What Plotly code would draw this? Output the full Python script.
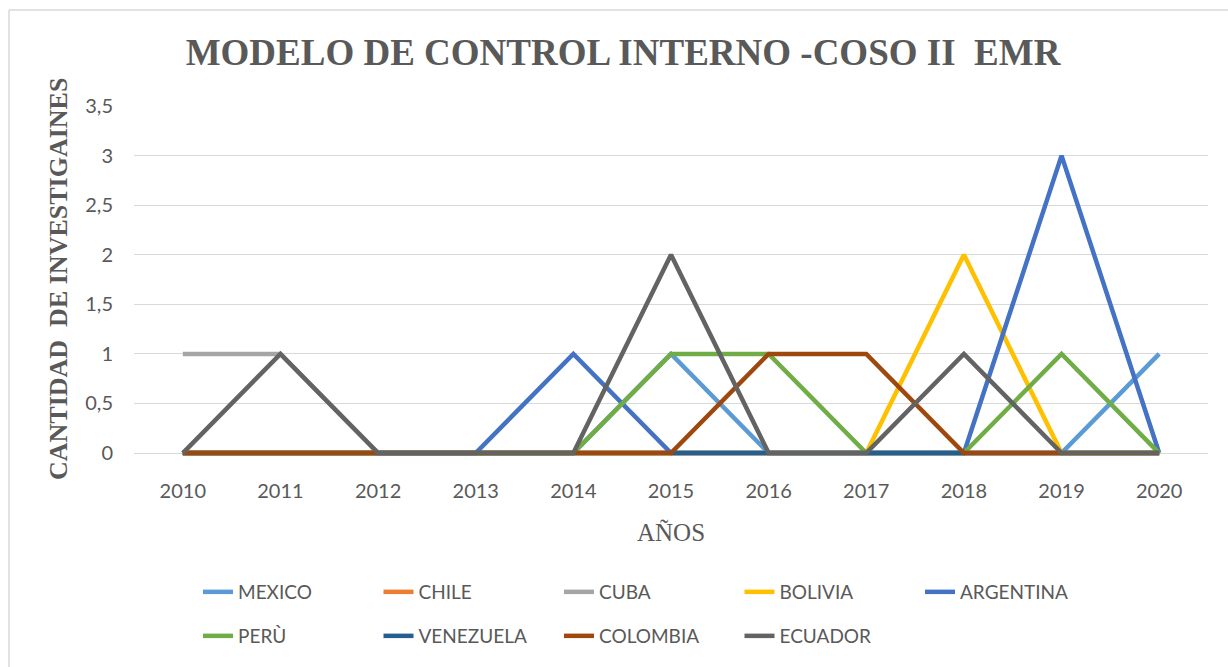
import plotly.graph_objects as go

years = ["2010", "2011", "2012", "2013", "2014", "2015", "2016", "2017", "2018", "2019", "2020"]

mexico    = [0, 0, 0, 0, 0, 1, 0, 0, 0, 0, 1]
chile     = [0, 0, 0, 0, 0, 0, 0, 0, 0, 0, 0]
cuba      = [1, 1, 0, 0, 0, 0, 0, 0, 0, 0, 0]
bolivia   = [0, 0, 0, 0, 0, 0, 0, 0, 2, 0, 0]
argentina = [0, 0, 0, 0, 1, 0, 0, 0, 0, 3, 0]
peru      = [0, 0, 0, 0, 0, 1, 1, 0, 0, 1, 0]
venezuela = [0, 0, 0, 0, 0, 0, 0, 0, 0, 0, 0]
colombia  = [0, 0, 0, 0, 0, 0, 1, 1, 0, 0, 0]
ecuador   = [0, 1, 0, 0, 0, 2, 0, 0, 1, 0, 0]

series = [
    ("MEXICO", mexico, "#5B9BD5", "legend"),
    ("CHILE", chile, "#ED7D31", "legend"),
    ("CUBA", cuba, "#A5A5A5", "legend"),
    ("BOLIVIA", bolivia, "#FFC000", "legend"),
    ("ARGENTINA", argentina, "#4472C4", "legend"),
    ("PERÙ", peru, "#70AD47", "legend2"),
    ("VENEZUELA", venezuela, "#255E91", "legend2"),
    ("COLOMBIA", colombia, "#9E480E", "legend2"),
    ("ECUADOR", ecuador, "#636363", "legend2"),
]

W, H = 1228, 667
L, R, T, B = 134, 1208, 106, 459  # plot area in px

fig = go.Figure()
for name, vals, col, lg in series:
    fig.add_trace(go.Scatter(
        x=years, y=vals, name=name, mode="lines",
        line=dict(color=col, width=4.5, shape="linear"),
        legend=lg,
    ))

def px_x(x):
    return (x - L) / (R - L)

def px_y(y):
    return (B - y) / (B - T)

gray = "#595959"
tick_font = dict(family="Lato, Liberation Sans, sans-serif", size=20, color=gray)
leg_font = dict(family="Lato, Liberation Sans, sans-serif", size=19, color=gray)

fig.update_layout(
    width=W, height=H,
    margin=dict(l=L, r=W - R, t=T, b=H - B),
    paper_bgcolor="white", plot_bgcolor="white",
    separators=",.",
    title=dict(
        text="<b>MODELO DE CONTROL INTERNO -COSO II\u00a0 EMR</b>",
        font=dict(family="Liberation Serif, Times New Roman, serif", size=37, color=gray),
        x=623 / W, xanchor="center", xref="container",
        y=1 - 52 / H, yanchor="middle", yref="container",
    ),
    xaxis=dict(
        type="category", range=[-0.5, 10.5],
        showgrid=False, zeroline=False, showline=False,
        ticks="", tickfont=tick_font, ticklabelstandoff=18,
    ),
    yaxis=dict(
        range=[-0.06, 3.5], tickvals=[0, 0.5, 1, 1.5, 2, 2.5, 3, 3.5],
        showgrid=True, gridcolor="#D9D9D9", gridwidth=1.3,
        zeroline=False, showline=False,
        ticks="", tickfont=tick_font, ticklabelstandoff=20,
    ),
    legend=dict(
        orientation="h", xref="container", yref="container",
        x=198 / W, xanchor="left", y=1 - 592 / H, yanchor="middle",
        font=leg_font, entrywidth=135.5, entrywidthmode="pixels",
        bgcolor="rgba(0,0,0,0)",
    ),
    legend2=dict(
        orientation="h", xref="container", yref="container",
        x=198 / W, xanchor="left", y=1 - 636 / H, yanchor="middle",
        font=leg_font, entrywidth=135.5, entrywidthmode="pixels",
        bgcolor="rgba(0,0,0,0)",
    ),
    showlegend=True,
)

fig.add_annotation(
    text="<b>CANTIDAD\u00a0 DE INVESTIGAINES</b>", textangle=-90,
    xref="paper", yref="paper", x=px_x(58), y=px_y(279),
    xanchor="center", yanchor="middle", showarrow=False,
    font=dict(family="Liberation Serif, Times New Roman, serif", size=26, color=gray),
)
fig.add_annotation(
    text="AÑOS",
    xref="paper", yref="paper", x=px_x(671), y=px_y(532),
    xanchor="center", yanchor="middle", showarrow=False,
    font=dict(family="Liberation Serif, Times New Roman, serif", size=25, color=gray),
)

# outer chart frame (top and left edges visible)
fig.add_shape(type="line", xref="paper", yref="paper",
              x0=px_x(9), x1=px_x(1230), y0=px_y(10), y1=px_y(10),
              line=dict(color="#D9D9D9", width=1.5))
fig.add_shape(type="line", xref="paper", yref="paper",
              x0=px_x(9), x1=px_x(9), y0=px_y(10), y1=px_y(670),
              line=dict(color="#D9D9D9", width=1.5))

fig.write_html(
    "out.html",
    config={"displayModeBar": False},
    post_script="document.body.style.margin='0px';document.body.style.overflow='hidden';",
)
